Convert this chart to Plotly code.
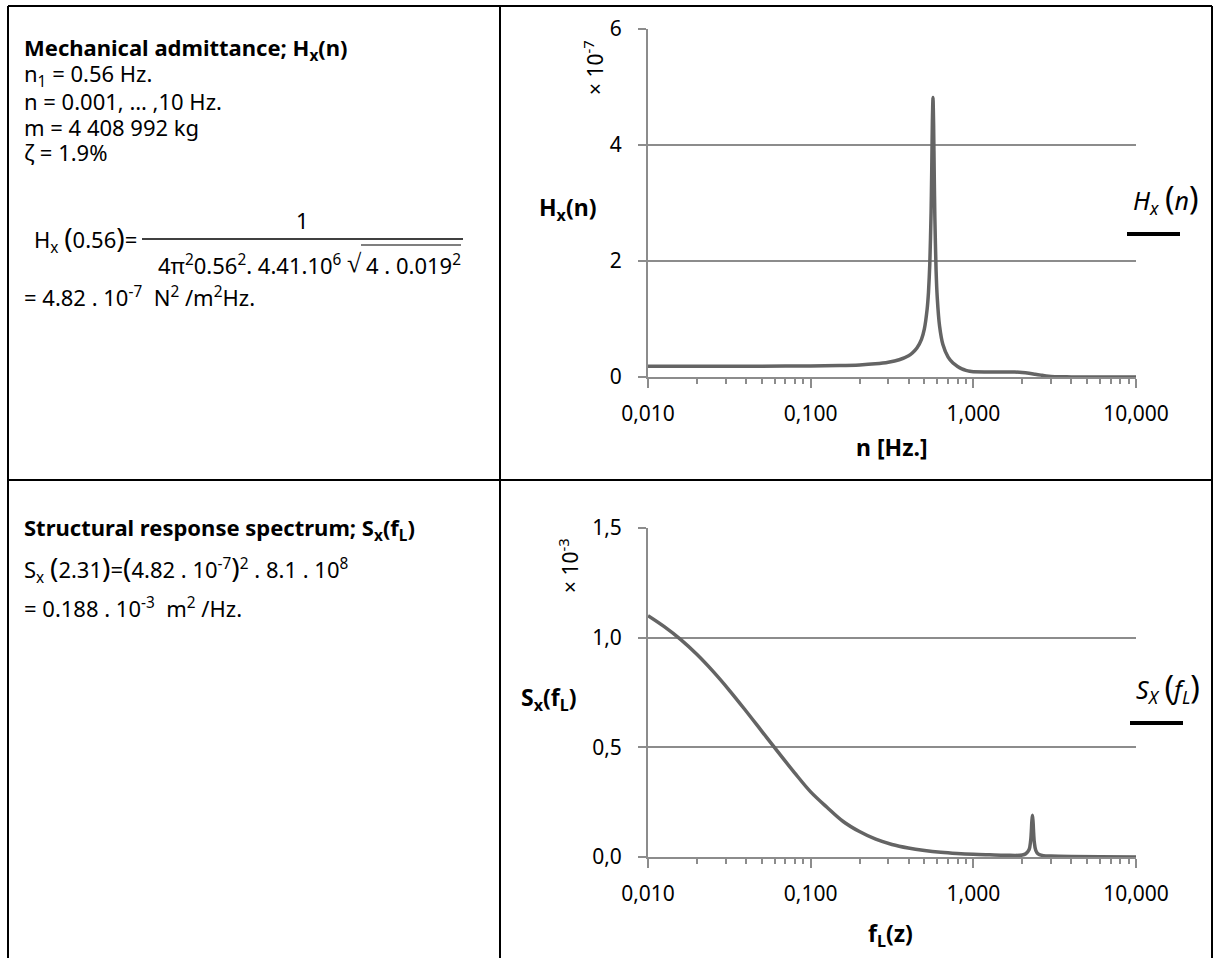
import plotly.graph_objects as go

W, H = 1216, 958

# ---- data ----
n_hz = [0.01, 0.02, 0.05, 0.1, 0.15, 0.2, 0.25, 0.3, 0.35, 0.4, 0.42, 0.45, 0.48,
        0.50, 0.52, 0.53, 0.54, 0.55, 0.555, 0.56, 0.565, 0.57, 0.575, 0.58, 0.59,
        0.60, 0.62, 0.65, 0.70, 0.75, 0.80, 0.85, 0.90, 0.95, 1.0, 1.2, 1.5, 1.8,
        2.0, 2.2, 2.4, 2.6, 2.8, 3.0, 3.5, 4.0, 6.0, 10.0]
hx_e7 = [0.185, 0.185, 0.186, 0.19, 0.197, 0.209, 0.228, 0.255, 0.297, 0.367, 0.41,
         0.50, 0.65, 0.83, 1.17, 1.46, 1.95, 2.85, 3.57, 4.40, 4.82, 4.33, 3.48, 2.75,
         1.85, 1.37, 0.88, 0.56, 0.342, 0.24, 0.182, 0.14, 0.115, 0.098, 0.09, 0.088,
         0.088, 0.085, 0.078, 0.065, 0.048, 0.032, 0.018, 0.01, 0.004, 0.002, 0.001,
         0.0005]

fl_hz = [0.01, 0.01259, 0.01585, 0.01995, 0.02512, 0.03162, 0.03981, 0.05012, 0.0631,
         0.07943, 0.1, 0.1259, 0.1585, 0.1995, 0.2512, 0.3162, 0.3981, 0.5012, 0.631,
         0.794, 1.0, 1.26, 1.58, 2.0, 2.1, 2.2, 2.25, 2.27, 2.29, 2.31, 2.33, 2.35,
         2.37, 2.42, 2.5, 2.7, 3.0, 4.0, 6.0, 10.0]
sx_e3 = [1.100, 1.050, 0.992, 0.924, 0.846, 0.760, 0.668, 0.573, 0.478, 0.385, 0.297,
         0.227, 0.162, 0.116, 0.081, 0.057, 0.041, 0.030, 0.022, 0.0165, 0.0125, 0.010,
         0.008, 0.009, 0.015, 0.033, 0.073, 0.11, 0.163, 0.19, 0.158, 0.105, 0.068,
         0.03, 0.014, 0.006, 0.004, 0.002, 0.001, 0.0005]

x_tickvals = [0.01, 0.1, 1, 10]
x_ticktext = ["0,010", "0,100", "1,000", "10,000"]
top_yvals = [0, 2, 4, 6]
top_ytext = ["0", "2", "4", "6"]
bot_yvals = [0, 0.5, 1.0, 1.5]
bot_ytext = ["0,0", "0,5", "1,0", "1,5"]
minor_vals = [m * d for d in (0.01, 0.1, 1) for m in range(2, 10)]

FONT = "Noto Sans"
LINE = "#646464"
GRID = "#8c8c8c"
BODY = 22


def px(x):
    return x / W


def py(y):
    return 1 - y / H


fig = go.Figure()
fig.add_trace(go.Scatter(x=n_hz, y=hx_e7, mode="lines",
                         line=dict(color=LINE, width=3.5, shape="spline", smoothing=0.6),
                         xaxis="x", yaxis="y", showlegend=False, hoverinfo="skip"))
fig.add_trace(go.Scatter(x=fl_hz, y=sx_e3, mode="lines",
                         line=dict(color=LINE, width=3.5, shape="spline", smoothing=1.0),
                         xaxis="x2", yaxis="y2", showlegend=False, hoverinfo="skip"))

xdom = [px(648), px(1136)]
xcommon = dict(type="log", range=[-2, 1], tickvals=x_tickvals, ticktext=x_ticktext,
               showgrid=False, showline=True, linecolor=GRID, linewidth=2,
               ticks="outside", ticklen=9, tickwidth=1.5, tickcolor=GRID,
               tickfont=dict(family=FONT, size=21, color="#000"),
               ticklabelstandoff=8, zeroline=False, automargin=False,
               minor=dict(tickvals=minor_vals, ticks="outside", ticklen=5,
                          tickwidth=1.5, tickcolor=GRID, showgrid=False))
ycommon = dict(showgrid=True, gridcolor=GRID, gridwidth=1.5, showline=True,
               linecolor=GRID, linewidth=2, ticks="outside", ticklen=8,
               tickwidth=1.5, tickcolor=GRID, zeroline=False, automargin=False,
               tickfont=dict(family=FONT, size=21, color="#000"),
               ticklabelstandoff=12)

fig.update_layout(
    width=W, height=H, margin=dict(l=0, r=0, t=0, b=0, pad=0, autoexpand=False),
    paper_bgcolor="white", plot_bgcolor="white",
    xaxis=dict(domain=xdom, anchor="y", **xcommon),
    yaxis=dict(domain=[py(377), py(29)], anchor="x", range=[0, 6],
               tickvals=top_yvals, ticktext=top_ytext, **ycommon),
    xaxis2=dict(domain=xdom, anchor="y2", **xcommon),
    yaxis2=dict(domain=[py(857), py(528)], anchor="x2", range=[0, 1.5],
                tickvals=bot_yvals, ticktext=bot_ytext, **ycommon),
)

shapes = []
# table borders
for (x0, y0, x1, y1) in [(8, 6, 1212, 6), (8, 6, 8, 958), (1212, 6, 1212, 958),
                         (500, 6, 500, 958), (8, 480, 1212, 480)]:
    shapes.append(dict(type="line", xref="paper", yref="paper", x0=px(x0), y0=py(y0),
                       x1=px(x1), y1=py(y1), line=dict(color="#000", width=2)))
# legend keys
for (x0, x1, y) in [(1127, 1180, 234), (1130, 1183, 723)]:
    shapes.append(dict(type="line", xref="paper", yref="paper", x0=px(x0), y0=py(y),
                       x1=px(x1), y1=py(y), line=dict(color="#000", width=4)))
# fraction bar and radical overline
shapes.append(dict(type="line", xref="paper", yref="paper", x0=px(142), y0=py(239),
                   x1=px(463), y1=py(239), line=dict(color="#000", width=1.5)))
shapes.append(dict(type="line", xref="paper", yref="paper", x0=px(361), y0=py(245),
                   x1=px(461), y1=py(245), line=dict(color="#000", width=1.2)))
fig.update_layout(shapes=shapes)

ann = []


def text(x, y, s, size=BODY, xanchor="left", angle=0, family=FONT):
    ann.append(dict(x=px(x), y=py(y), xref="paper", yref="paper", text=s,
                    showarrow=False, xanchor=xanchor, yanchor="middle",
                    textangle=angle, font=dict(family=family, size=size, color="#000")))


BIGP = "<span style='font-size:28px'>%s</span>"

# top-left text
text(22, 49, "<b>Mechanical admittance; H<sub>x</sub>(n)</b>")
text(22, 75, "n<sub>1</sub> = 0.56 Hz.")
text(22, 101, "n = 0.001, … ,10 Hz.")
text(22, 127, "m = 4 408 992 kg")
text(22, 152, "ζ = 1.9%")
text(139, 238, "H<sub>x</sub> " + BIGP % "(" + "0.56" + BIGP % ")" + "=", xanchor="right")
text(302, 220, "1", xanchor="center")
text(344, 264, "4π<sup>2</sup>0.56<sup>2</sup>. 4.41.10<sup>6</sup>", xanchor="right")
text(354, 262, "√", size=26, xanchor="center")
text(364, 264, "4 . 0.019<sup>2</sup>")
text(22, 297, "= 4.82 . 10<sup>-7</sup>  N<sup>2</sup> /m<sup>2</sup>Hz.")

# bottom-left text
text(22, 529, "<b>Structural response spectrum; S<sub>x</sub>(f<sub>L</sub>)</b>")
text(22, 568, "S<sub>x</sub> " + BIGP % "(" + "2.31" + BIGP % ")" + "=" + BIGP % "("
     + "4.82 . 10<sup>-7</sup>" + BIGP % ")" + "<sup>2</sup> . 8.1 . 10<sup>8</sup>")
text(22, 607, "= 0.188 . 10<sup>-3</sup>  m<sup>2</sup> /Hz.")

# chart annotations (top)
text(567, 208, "<b>H<sub>x</sub>(n)</b>", size=23, xanchor="center")
text(594, 68, "× 10<sup>-7</sup>", size=21, xanchor="center", angle=-90)
text(892, 447, "<b>n [Hz.]</b>", size=23, xanchor="center")
text(1166, 198, "<i>H<sub>x</sub></i> " + "<span style='font-size:32px'>(</span><i>n</i>"
     "<span style='font-size:32px'>)</span>", size=25, xanchor="center")

# chart annotations (bottom)
text(549, 698, "<b>S<sub>x</sub>(f<sub>L</sub>)</b>", size=23, xanchor="center")
text(568, 566, "× 10<sup>-3</sup>", size=21, xanchor="center", angle=-90)
text(890, 934, "<b>f<sub>L</sub>(z)</b>", size=23, xanchor="center")
text(1168, 687, "<i>S<sub>X</sub></i> " + "<span style='font-size:32px'>(</span><i>f<sub>L</sub></i>"
     "<span style='font-size:32px'>)</span>", size=25, xanchor="center")

fig.update_layout(annotations=ann)
fig.write_html("out.html", config={"displayModeBar": False},
               post_script="document.body.style.margin='0px';")
